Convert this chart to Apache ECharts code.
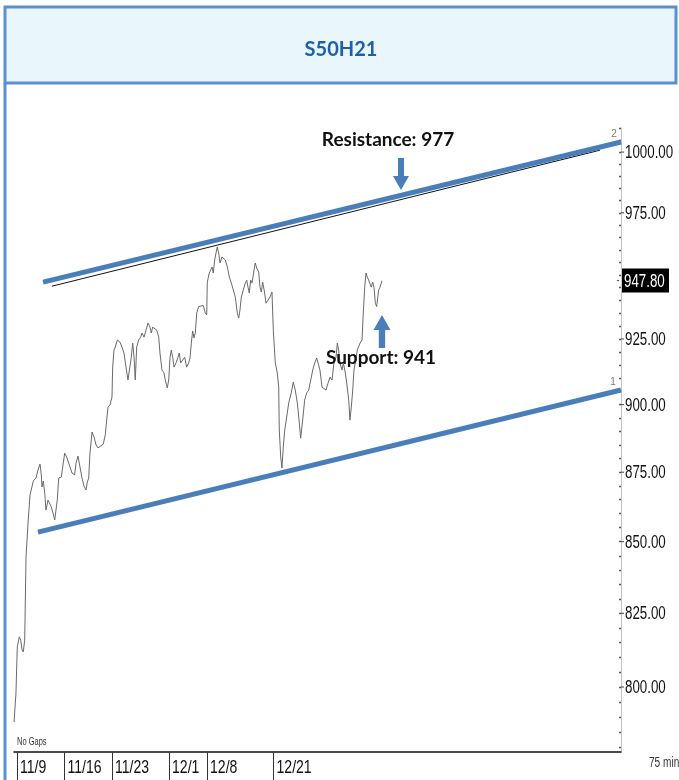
<!DOCTYPE html>
<html><head><meta charset="utf-8">
<script src="https://cdn.jsdelivr.net/npm/echarts@6/dist/echarts.min.js"></script>
<style>html,body{margin:0;padding:0;background:#fff;overflow:hidden}#c{width:679px;height:780px}</style>
</head><body><div id="c"></div>
<script>
// ---------- data ----------
const chartTitle = 'S50H21';
const dateLabels = ['11/9', '11/16', '11/23', '12/1', '12/8', '12/21'];
const dateTicks = [0, 5, 10, 16, 20, 27];            // trading-day index of each label
const priceTicks = [800, 825, 850, 875, 900, 925, 975, 1000];
const lastPrice = 947.8;
const minorTicks = [780,785,790,795,800,805,810,815,820,825,830,835,840,845,850,855,860,865,870,875,880,885,890,895,900,905,910,915,920,925,930,935,940,945,950,955,960,965,970,975,980,985,990,995,1000,1005,1010];

// price path: time in trading days from 11/9, price in index points
const times = [-0.31,-0.11,0.03,0.24,0.39,0.53,0.66,0.81,0.95,1.16,
1.37,1.72,2.0,2.21,2.42,2.56,2.63,2.77,2.92,3.05,
3.26,3.47,3.61,3.82,3.97,4.11,4.24,4.39,4.66,4.87,
5.02,5.23,5.51,5.79,6.07,6.21,6.42,6.63,6.84,7.05,
7.26,7.4,7.55,7.68,7.82,7.89,8.11,8.32,8.53,8.79,
9.08,9.29,9.44,9.58,9.79,10.0,10.07,10.21,10.35,10.56,
10.84,11.05,11.26,11.47,11.68,11.89,12.03,12.18,12.32,12.45,
12.6,12.81,13.02,13.16,13.37,13.58,13.79,14.0,14.14,14.28,
14.49,14.71,14.92,15.05,15.26,15.47,15.61,15.82,15.97,16.11,
16.24,16.39,16.53,16.74,16.95,17.08,17.23,17.44,17.65,17.86,
18.07,18.21,18.35,18.49,18.63,18.77,18.92,19.13,19.34,19.61,
19.82,19.97,20.03,20.24,20.53,20.66,20.81,20.95,21.08,21.23,
21.37,21.58,21.79,21.93,22.14,22.35,22.56,22.77,22.98,23.19,
23.34,23.47,23.61,23.82,24.03,24.18,24.32,24.45,24.6,24.74,
24.95,25.08,25.23,25.44,25.58,25.72,25.86,26.07,26.21,26.42,
26.63,26.84,26.98,27.19,27.4,27.55,27.61,27.76,27.89,28.03,
28.18,28.39,28.6,28.87,29.08,29.29,29.51,29.72,29.86,30.07,
30.28,30.49,30.71,30.92,31.13,31.34,31.55,31.76,31.89,32.11,
32.32,32.53,32.74,32.95,33.16,33.37,33.58,33.72,33.86,34.0,
34.21,34.35,34.56,34.71,34.92,35.05,35.19,35.34,35.47,35.61,
35.82,36.11,36.32,36.45,36.6,36.74,36.87,37.02,37.16,37.29,
37.44,37.58,37.72,37.86,38.0,38.07,38.21,38.35,38.42];
const prices = [788.4,798.0,813.5,816.9,815.8,812.5,811.8,815.8,844.6,856.6,
866.7,871.8,872.9,875.8,878.0,874.0,869.6,871.8,867.4,861.3,
864.9,864.5,862.4,859.9,857.7,858.4,864.9,872.9,873.2,872.9,
882.0,880.5,877.6,874.7,874.0,878.3,880.9,881.3,872.9,870.0,
868.5,871.4,872.9,882.0,886.8,889.8,887.9,885.0,883.9,884.6,
885.3,888.7,894.2,899.1,899.9,902.9,914.2,920.7,921.9,924.6,
923.8,921.9,919.6,914.2,909.3,909.3,918.0,923.4,918.0,909.3,
921.9,924.6,925.7,927.3,925.7,928.4,931.2,929.6,927.3,929.6,
929.2,928.4,925.7,919.6,913.1,912.0,909.3,906.3,909.3,918.0,
920.7,918.0,914.2,915.8,918.0,919.6,915.8,916.9,918.0,914.2,
915.8,917.7,923.4,928.1,925.4,927.3,935.1,937.6,937.6,938.0,
935.1,934.3,947.2,950.8,953.2,950.8,956.0,958.8,961.2,958.8,
954.8,957.2,956.8,956.0,953.2,949.2,946.8,944.1,941.3,935.1,
933.1,936.2,941.3,944.1,946.8,948.0,945.2,942.9,948.0,946.8,
952.0,954.8,952.8,951.2,945.2,943.3,947.2,942.9,938.9,940.1,
941.3,943.3,928.4,915.8,912.0,906.6,890.5,880.5,876.5,884.2,
890.5,895.4,900.6,904.4,908.5,905.5,900.6,893.1,887.5,894.2,
901.7,904.4,905.5,909.3,913.1,915.8,917.7,918.0,913.1,906.6,
906.6,905.5,908.1,910.4,909.3,915.8,918.0,923.4,920.7,915.8,
913.1,915.8,912.0,908.1,901.7,894.2,899.1,905.5,913.1,915.8,
920.7,923.4,924.6,935.1,945.2,950.8,949.2,948.0,946.4,945.2,
947.2,945.2,938.9,937.6,938.3,944.1,945.2,946.8,947.8];

// trend lines (time, price)
const supportT = [2.21, 63.58];
const supportP = [853.4, 905.5];
const resistT = [2.74, 63.58];
const resistP = [947.2, 1004.2];
const resistThinT = [3.68, 61.37];
const resistThinP = [945.6, 1000.8];
// annotation anchors (time, price)
const resistArrow = [40.42, 990.9];
const supportArrow = [38.42, 927.9];
const resistText = 'Resistance: 977';
const supportText = 'Support: 941';

// ---------- chart ----------
const zip = (a, b) => a.slice(0, Math.min(a.length, b.length)).map((v, i) => [v, b[i]]);
const axisFont = '"Liberation Sans", Arimo, Arial, sans-serif';
const boldFont = 'Lato, "Liberation Sans", sans-serif';
const blue = '#4a7ebb';
const yMin = 778.6, yMax = 1010.1;
const xMin = -0.3158, xMax = 63.58;

const chart = echarts.init(document.getElementById('c'), null, {renderer: 'canvas'});
const option = {
  animation: false,
  backgroundColor: '#ffffff',
  grid: {left: 14, right: 58, top: 128, bottom: 28, containLabel: false, outerBoundsMode: 'none'},
  xAxis: {
    type: 'value', min: xMin, max: xMax,
    axisLine: {show: true, onZero: false, lineStyle: {color: '#111', width: 1.5}},
    axisTick: {show: true, customValues: dateTicks, length: 28, lineStyle: {color: '#333', width: 1}},
    axisLabel: {show: false},
    splitLine: {show: false}
  },
  yAxis: {
    type: 'log', logBase: 10, min: yMin, max: yMax, position: 'right',
    axisLine: {show: true, onZero: false, lineStyle: {color: '#c4c4c4', width: 1}},
    axisTick: {show: true, inside: true, customValues: minorTicks, length: 2, lineStyle: {color: '#555', width: 1.3}},
    axisLabel: {show: false},
    splitLine: {show: false}
  },
  series: [
    {
      type: 'line', name: 'resist-thin', data: zip(resistThinT, resistThinP), showSymbol: false, silent: true,
      lineStyle: {color: '#111', width: 1}, z: 1
    },
    {
      type: 'line', name: 'price', data: zip(times, prices), showSymbol: false, silent: true,
      lineStyle: {color: '#6a6a6a', width: 1}, z: 2,
      markPoint: {
        silent: true,
        label: {show: false},
        data: [
          {coord: resistArrow, symbol: 'path://M5,0 L11,0 L11,18 L16,18 L8,32 L0,18 L5,18 Z', symbolSize: [16, 32], itemStyle: {color: blue}},
          {coord: supportArrow, symbol: 'path://M8,0 L16,15 L11,15 L11,33 L5,33 L5,15 L0,15 Z', symbolSize: [17, 33], itemStyle: {color: blue}}
        ]
      }
    },
    {
      type: 'line', name: 'support', data: zip(supportT, supportP), showSymbol: false, silent: true,
      lineStyle: {color: blue, width: 5}, z: 3
    },
    {
      type: 'line', name: 'resistance', data: zip(resistT, resistP), showSymbol: false, silent: true,
      lineStyle: {color: blue, width: 5}, z: 3
    }
  ]
};
chart.setOption(option);

// ---------- frame, texts, condensed axis labels placed through the axis scales ----------
const g = [
  {type: 'rect', shape: {x: 5, y: 7, width: 671, height: 76}, style: {fill: '#e9f7fd', stroke: '#5b8fd3', lineWidth: 3}, z: 10},
  {type: 'line', shape: {x1: 5, y1: 83, x2: 5, y2: 780}, style: {stroke: '#5b8fd3', lineWidth: 3}, z: 10},
  {type: 'text', x: 341, y: 50, style: {text: chartTitle, font: 'bold 20px ' + boldFont, fill: '#1f5fa8', align: 'center', verticalAlign: 'middle'}, z: 11},
  {type: 'text', x: 388, y: 140, style: {text: resistText, font: 'bold 19px ' + boldFont, fill: '#111', align: 'center', verticalAlign: 'middle'}, z: 11},
  {type: 'text', x: 381, y: 358, style: {text: supportText, font: 'bold 19px ' + boldFont, fill: '#111', align: 'center', verticalAlign: 'middle'}, z: 11},
  {type: 'text', x: 614, y: 134, style: {text: '2', font: '10px ' + axisFont, fill: '#777', align: 'center', verticalAlign: 'middle'}, z: 11},
  {type: 'text', x: 613, y: 382, style: {text: '1', font: '10px ' + axisFont, fill: '#777', align: 'center', verticalAlign: 'middle'}, z: 11},
  {type: 'text', x: 17, y: 742, scaleX: 0.75, style: {text: 'No Gaps', font: '10px ' + axisFont, fill: '#333', align: 'left', verticalAlign: 'middle'}, z: 11},
  {type: 'text', x: 649, y: 763, scaleX: 0.72, style: {text: '75 min', font: '14px ' + axisFont, fill: '#333', align: 'left', verticalAlign: 'middle'}, z: 11}
];
const axisX = chart.convertToPixel({xAxisIndex: 0}, xMax);
priceTicks.forEach(v => {
  const y = chart.convertToPixel({yAxisIndex: 0}, v);
  g.push({type: 'line', shape: {x1: axisX, y1: y, x2: axisX + 3, y2: y}, style: {stroke: '#444', lineWidth: 1}, z: 11});
  g.push({type: 'text', x: axisX + 4, y: y + 1, scaleX: 0.74, style: {text: v.toFixed(2), font: '18px ' + axisFont, fill: '#111', align: 'left', verticalAlign: 'middle'}, z: 11});
});
{
  const y = chart.convertToPixel({yAxisIndex: 0}, lastPrice);
  g.push({type: 'line', shape: {x1: axisX - 4, y1: y, x2: axisX - 2, y2: y}, style: {stroke: '#444', lineWidth: 1}, z: 11});
  g.push({type: 'rect', shape: {x: axisX + 1, y: y - 12, width: 47, height: 24}, style: {fill: '#000'}, z: 11});
  g.push({type: 'text', x: axisX + 3, y: y + 1, scaleX: 0.74, style: {text: lastPrice.toFixed(2), font: '18px ' + axisFont, fill: '#fff', align: 'left', verticalAlign: 'middle'}, z: 12});
}
dateTicks.forEach((t, i) => {
  const x = chart.convertToPixel({xAxisIndex: 0}, t);
  g.push({type: 'text', x: x + 3, y: 768, scaleX: 0.74, style: {text: dateLabels[i], font: '19px ' + axisFont, fill: '#111', align: 'left', verticalAlign: 'middle'}, z: 11});
});
chart.setOption({graphic: g});
</script>
</body></html>
